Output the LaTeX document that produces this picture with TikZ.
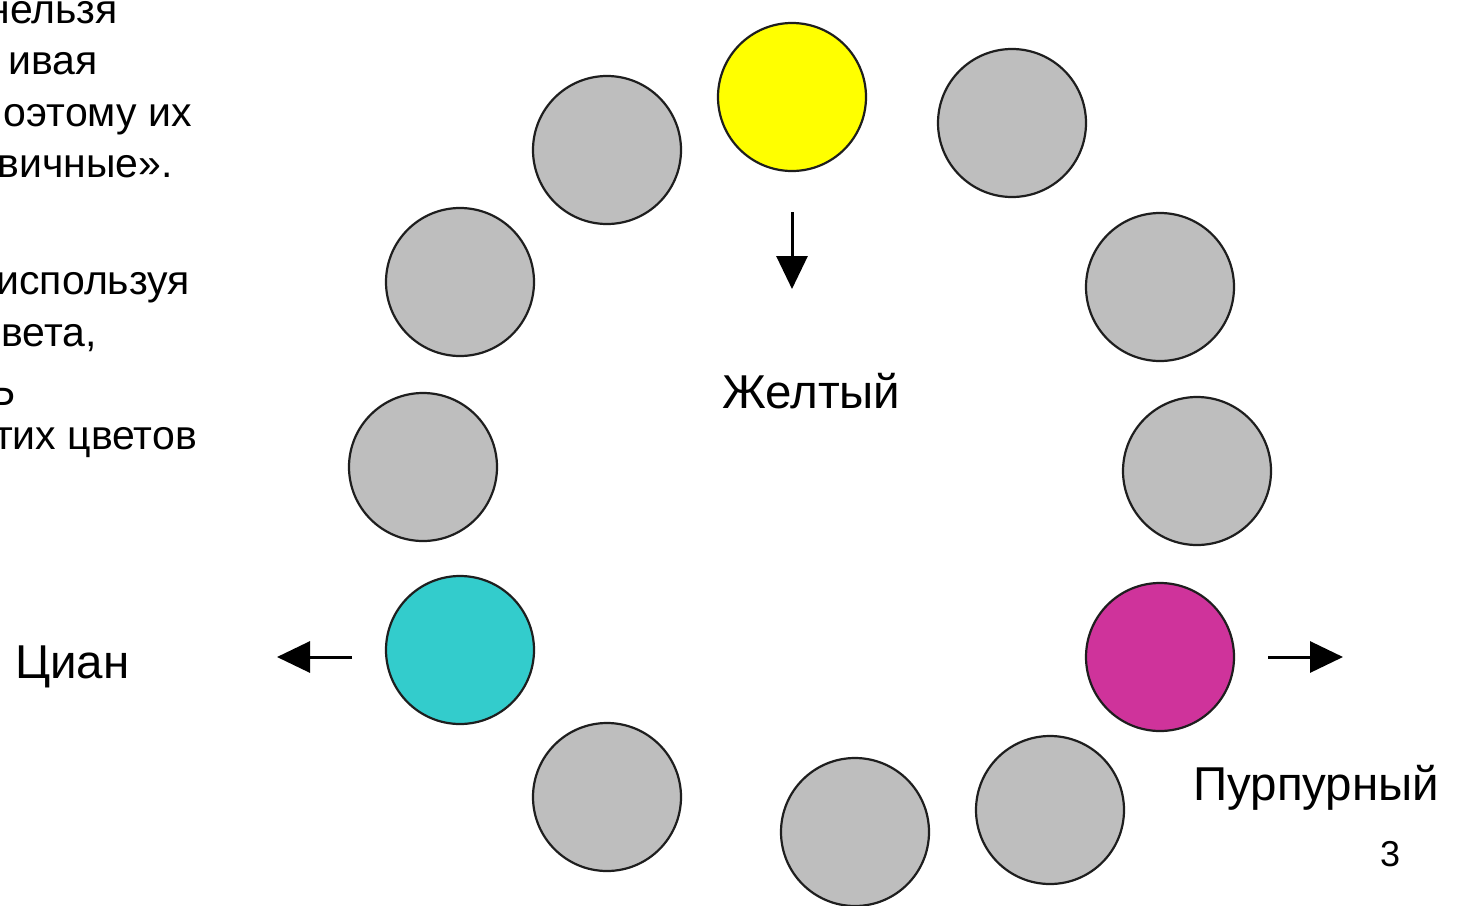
\documentclass[tikz,border=0pt]{standalone}
\usepackage{fontspec}
\setmainfont{Liberation Sans}
\usetikzlibrary{arrows.meta}
\definecolor{wgray}{RGB}{190,190,190}
\definecolor{wyellow}{RGB}{255,255,0}
\definecolor{wcyan}{RGB}{51,204,204}
\definecolor{wmag}{RGB}{207,51,155}
\definecolor{wline}{RGB}{30,30,30}
\begin{document}
\begin{tikzpicture}[x=1pt,y=-1pt,
  disc/.style={circle, draw=wline, line width=2.2pt, minimum size=148pt, inner sep=0pt, fill=wgray},
  lbl/.style={inner sep=0pt, anchor=base west, font=\fontsize{47.5}{50}\selectfont},
  side/.style={inner sep=0pt, anchor=base east, font=\fontsize{41}{48}\selectfont},
  pointer/.style={line width=3pt, -{Triangle[length=33pt,width=31pt]}}
]
\useasboundingbox (0,0) rectangle (1458,905);
\clip (0,0) rectangle (1458,905);
\fill[white] (0,0) rectangle (1458,905);

% left text fragments
\node[side] (t1) at (118,23) {нельзя};
\node[side] (t2) at (98,74) {ивая};
\node[side] (t3) at (192,126) {оэтому их};
\node[side] (t4) at (173,177) {вичные».};
\node[side] (t5) at (190,294) {используя};
\node[side] (t6) at (97,346) {вета,};
\node[side] (t7) at (16,416) {Р};
\node[side] (t8) at (197,449) {тих цветов};

% colour wheel
\node[disc, fill=wyellow] (c1) at (792,97) {};
\node[disc] (c2) at (1012,123) {};
\node[disc] (c3) at (1160,287) {};
\node[disc] (c4) at (1197,471) {};
\node[disc, fill=wmag] (c5) at (1160,657) {};
\node[disc] (c6) at (1050,810) {};
\node[disc] (c7) at (855,832) {};
\node[disc] (c8) at (607,797) {};
\node[disc, fill=wcyan] (c9) at (460,650) {};
\node[disc] (c10) at (423,467) {};
\node[disc] (c11) at (460,282) {};
\node[disc] (c12) at (607,150) {};

% arrows
\coordinate (ya) at (792,212);
\coordinate (yb) at (792,289);
\coordinate (ca) at (352,657);
\coordinate (cb) at (277,657);
\coordinate (ma) at (1268,657);
\coordinate (mb) at (1343,657);
\draw[pointer] (ya) -- (yb);
\draw[pointer] (ca) -- (cb);
\draw[pointer] (ma) -- (mb);

% labels
\node[lbl] (ly) at (722,408) {Желтый};
\node[lbl] (lc) at (15,678) {Циан};
\node[lbl] (lm) at (1193,800) {Пурпурный};
\node[inner sep=0pt, anchor=base west, font=\fontsize{36}{40}\selectfont] (pg) at (1380,866) {3};
\end{tikzpicture}
\end{document}
